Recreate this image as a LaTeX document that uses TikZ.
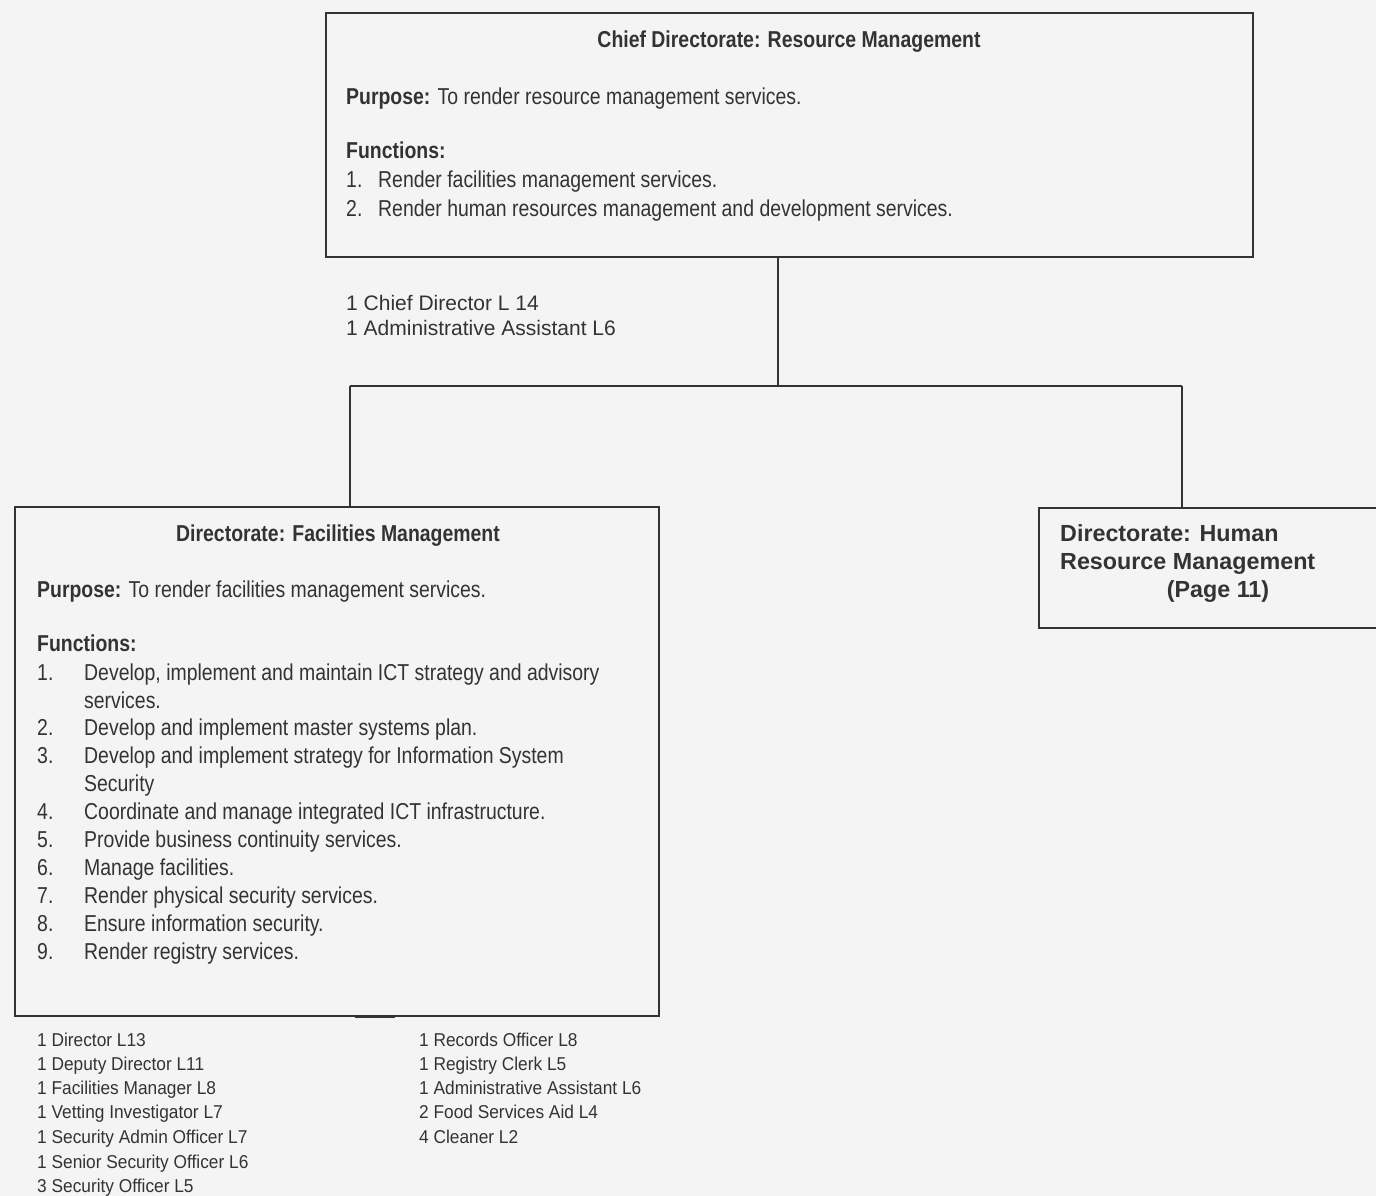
\documentclass[tikz,border=0pt]{standalone}
\usepackage{fontspec}
\setmainfont{Liberation Sans}
\newfontfamily\nar[FakeStretch=0.845]{Liberation Sans}
\newfontfamily\nars[FakeStretch=0.93]{Liberation Sans}
\definecolor{ink}{HTML}{333333}
\definecolor{paper}{HTML}{F4F4F4}
\tikzset{
  box/.style={draw=ink, line width=1.8pt, rectangle},
  conn/.style={draw=ink, line width=1.6pt},
  txt/.style={anchor=base west, inner sep=0pt, text=ink, font=\nar\fontsize{23}{26}\selectfont},
  ttl/.style={anchor=base, inner sep=0pt, text=ink, font=\nar\bfseries\fontsize{23}{26}\selectfont},
  staff/.style={anchor=base west, inner sep=0pt, text=ink, font=\fontsize{21}{24}\selectfont},
  small/.style={anchor=base west, inner sep=0pt, text=ink, font=\nars\fontsize{18.6}{22}\selectfont},
  hrt/.style={anchor=base west, inner sep=0pt, text=ink, font=\bfseries\fontsize{23.3}{26}\selectfont},
}
\begin{document}
\begin{tikzpicture}[x=1pt,y=-1pt]
\fill[paper] (0,0) rectangle (1376,1196);
\useasboundingbox (0,0) rectangle (1376,1196);
% boxes
\node[box, minimum width=927pt, minimum height=244pt] (top) at (789.5,135) {};
\node[box, minimum width=644pt, minimum height=509pt] (left) at (337,761.5) {};
\node[box, minimum width=360pt, minimum height=120pt] (hr) at (1219,568) {};
% connectors
\coordinate (j) at (778,386);
\coordinate (jl) at (350,386);
\coordinate (jr) at (1182,386);
\draw[conn] (j |- top.south) -- (j);
\draw[conn] (jl) -- (jr);
\draw[conn] (jl) -- (jl |- left.north);
\draw[conn] (jr) -- (jr |- hr.north);
\coordinate (stub) at (375,1016);
\draw[ink, line width=3pt] ([xshift=-20pt]stub) -- ([xshift=20pt]stub);
% top box text
\node[ttl] (t0) at (789,48) {Chief Directorate: Resource Management};
\node[txt] (t1) at (346,105) {\textbf{Purpose:} To render resource management services.};
\node[txt] (t2) at (346,159) {\textbf{Functions:}};
\node[txt] (t3n) at (346,187) {1.};
\node[txt] (t3) at (378,187) {Render facilities management services.};
\node[txt] (t4n) at (346,216) {2.};
\node[txt] (t4) at (378,216) {Render human resources management and development services.};
% staff chief
\node[staff] (s1) at (346,310) {1 Chief Director L 14};
\node[staff] (s2) at (346,335) {1 Administrative Assistant L6};
% left box text
\node[ttl] (l0) at (338,541) {Directorate: Facilities Management};
\node[txt] (l1) at (37,597) {\textbf{Purpose:} To render facilities management services.};
\node[txt] (l2) at (37,651) {\textbf{Functions:}};
\node[txt] (n1) at (37,680) {1.};
\node[txt] (f1) at (84,680) {Develop, implement and maintain ICT strategy and advisory};
\node[txt] (f1b) at (84,708) {services.};
\node[txt] (n2) at (37,735) {2.};
\node[txt] (f2) at (84,735) {Develop and implement master systems plan.};
\node[txt] (n3) at (37,763) {3.};
\node[txt] (f3) at (84,763) {Develop and implement strategy for Information System};
\node[txt] (f3b) at (84,791) {Security};
\node[txt] (n4) at (37,819) {4.};
\node[txt] (f4) at (84,819) {Coordinate and manage integrated ICT infrastructure.};
\node[txt] (n5) at (37,847) {5.};
\node[txt] (f5) at (84,847) {Provide business continuity services.};
\node[txt] (n6) at (37,875) {6.};
\node[txt] (f6) at (84,875) {Manage facilities.};
\node[txt] (n7) at (37,903) {7.};
\node[txt] (f7) at (84,903) {Render physical security services.};
\node[txt] (n8) at (37,931) {8.};
\node[txt] (f8) at (84,931) {Ensure information security.};
\node[txt] (n9) at (37,959) {9.};
\node[txt] (f9) at (84,959) {Render registry services.};
% HR box text
\node[hrt] (h1) at (1060,541) {Directorate: Human};
\node[hrt] (h2) at (1060,569) {Resource Management};
\node[hrt, anchor=base] (h3) at (1218,597) {(Page 11)};
% staff lists
\node[small] (a1) at (37,1046) {1 Director L13};
\node[small] (a2) at (37,1070) {1 Deputy Director L11};
\node[small] (a3) at (37,1094) {1 Facilities Manager L8};
\node[small] (a4) at (37,1118) {1 Vetting Investigator L7};
\node[small] (a5) at (37,1143) {1 Security Admin Officer L7};
\node[small] (a6) at (37,1168) {1 Senior Security Officer L6};
\node[small] (a7) at (37,1192) {3 Security Officer L5};
\node[small] (b1) at (419,1046) {1 Records Officer L8};
\node[small] (b2) at (419,1070) {1 Registry Clerk L5};
\node[small] (b3) at (419,1094) {1 Administrative Assistant L6};
\node[small] (b4) at (419,1118) {2 Food Services Aid L4};
\node[small] (b5) at (419,1143) {4 Cleaner L2};
\end{tikzpicture}
\end{document}
